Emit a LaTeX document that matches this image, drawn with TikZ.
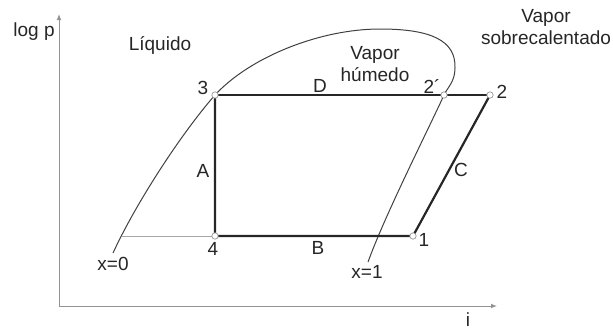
\documentclass[tikz,border=0pt]{standalone}
\usepackage{fontspec}
\setmainfont{Liberation Sans}
\usetikzlibrary{arrows.meta,positioning}
\tikzset{
  estado/.style={circle,draw=gray!80,fill=white,line width=0.35pt,inner sep=0pt,minimum size=3.2pt},
  proceso/.style={line width=1.1pt,black!85},
  saturacion/.style={line width=0.5pt,black!75},
  etiq/.style={font=\fontsize{9.5}{11}\selectfont,text=black!85,inner sep=0pt,align=center}
}

\begin{document}
\begin{tikzpicture}[x=0.5pt,y=-0.5pt]
\useasboundingbox (0,0) rectangle (613,328);
% ejes
\coordinate (Ytip) at (59,14);
\coordinate (O) at (59,306);
\coordinate (Xtip) at (497,306);
\draw[gray!85,line width=0.5pt,{Latex[length=3pt,width=2.4pt]}-{Latex[length=3pt,width=2.4pt]}] (Ytip) -- (O) -- (Xtip);
% estados del ciclo
\foreach \n/\x/\y in {p1/413/236,p2/490/95,p2p/444/95,p3/215/95,p4/215/236}{\coordinate (\n) at (\x,\y);}
\coordinate (x0ini) at (113,253);
\coordinate (x0base) at (122,236);
\coordinate (x1fin) at (368,262);
% curva de saturacion (x=0 y x=1)
\draw[saturacion] (x0ini) .. controls (135,205) and (180,135) .. (p3)
  .. controls (250,57) and (320,29) .. (380,29)
  .. controls (430,29) and (456,40) .. (455,68)
  .. controls (455,82) and (447,88) .. (p2p)
  .. controls (428,130) and (385,215) .. (x1fin);
\draw[gray!70,line width=0.5pt] (x0base) -- (p4);
% ciclo
\draw[proceso] (p3) -- (p2);
\draw[proceso] (p3) -- (p4) -- (p1) -- (p2);
\foreach \n in {p1,p2,p2p,p3,p4}{\node[estado] at (\n) {};}
% textos
\node[etiq] (ejey) at (34,32) {log p};
\node[etiq] (ejex) at (468,320) {i};
\node[etiq] (liq) at (160,45) {Líquido};
\node[etiq] (vsob) at (546,27) {Vapor\\sobrecalentado};
\node[etiq] (vhum) at (375,64) {Vapor\\húmedo};
\node[etiq] at (203,88) {3};
\node[etiq] at (213,249) {4};
\node[etiq] at (424,240) {1};
\node[etiq] at (502,92) {2};
\node[etiq] at (432,86) {2´};
\node[etiq] at (320,86) {D};
\node[etiq] at (203,171) {A};
\node[etiq] at (318,248) {B};
\node[etiq] at (461,170) {C};
\node[etiq] at (113,264) {x=0};
\node[etiq] at (367,272) {x=1};
\end{tikzpicture}
\end{document}
